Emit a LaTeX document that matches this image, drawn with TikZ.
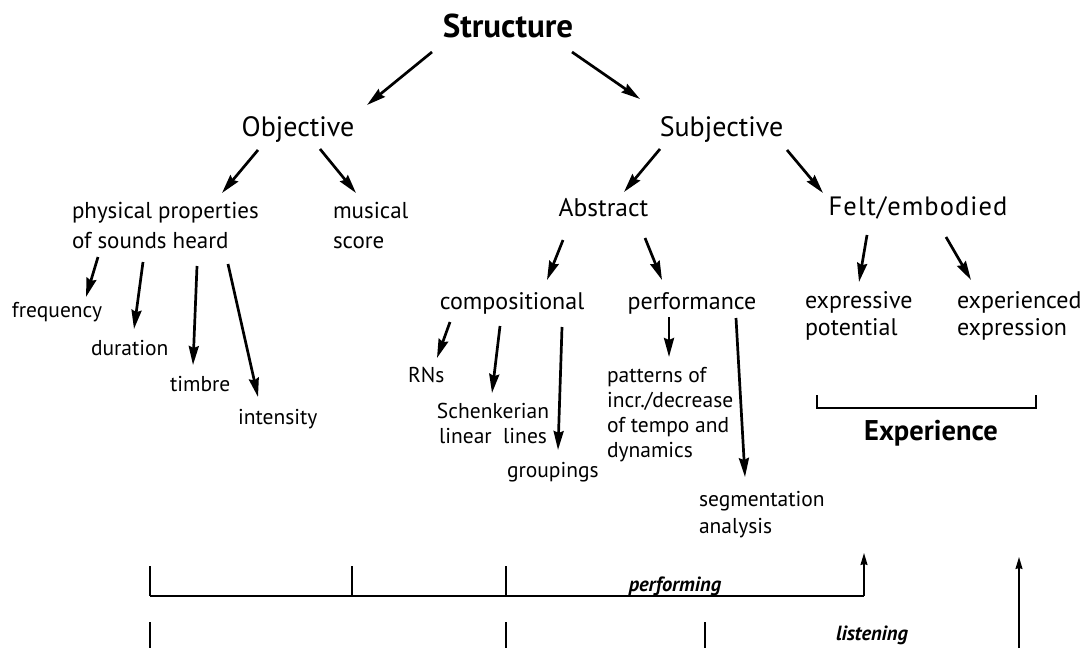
\documentclass[tikz,border=0pt]{standalone}
\usepackage{fontspec}
\setmainfont{PT Sans}
\usetikzlibrary{arrows.meta}
\begin{document}
\begin{tikzpicture}[x=1pt,y=-1pt,
  lbl/.style={inner sep=0pt,outer sep=0pt},
  fbig/.style={lbl,font=\fontsize{28}{32}\selectfont},
  fmid/.style={lbl,font=\fontsize{25.5}{30}\selectfont},
  fnorm/.style={lbl,font=\fontsize{24}{30}\selectfont},
  fsmall/.style={lbl,font=\fontsize{21.5}{25.3}\selectfont},
  fbold/.style={lbl,font=\bfseries\fontsize{#1}{#1}\selectfont},
  fbi/.style={lbl,font=\bfseries\itshape\fontsize{20.5}{24}\selectfont},
  arr/.style={line width=2.7pt,-{Stealth[length=19pt,width=10pt,inset=2pt]}},
  thin/.style={line width=1.4pt},
  thick/.style={line width=2.1pt},
  uparr/.style={line width=1.4pt,-{Stealth[length=12pt,width=7pt,inset=1pt]}}
]
\useasboundingbox[fill=white] (0,0) rectangle (1083,648);

% ---------- labels ----------
\node[fbold=33,anchor=base] (struct) at (508,37) {Structure};
\node[fbig,anchor=base] (obj) at (298,136) {Objective};
\node[fbig,anchor=base] (subj) at (721.5,136) {Subjective};
\node[fnorm,anchor=base west,font=\fontsize{23}{30}\selectfont] (phys) at (72,218) {\begin{tabular}[t]{@{}l@{}}physical properties\\of sounds heard\end{tabular}};
\node[fnorm,anchor=base west,font=\fontsize{23}{30}\selectfont] (score) at (333,218) {\begin{tabular}[t]{@{}l@{}}musical\\score\end{tabular}};
\node[fmid,anchor=base] (abs) at (603.5,216) {Abstract};
\node[fmid,anchor=base,font=\fontsize{26.5}{30}\selectfont\addfontfeature{LetterSpace=4}] (felt) at (918,215) {Felt/embodied};
\node[fnorm,anchor=base] (comp) at (512,309) {compositional};
\node[fnorm,anchor=base] (perf) at (692,309) {performance};
\node[fnorm,anchor=base west,font=\fontsize{24}{27}\selectfont] (expot) at (805,308) {\begin{tabular}[t]{@{}l@{}}expressive\\potential\end{tabular}};
\node[fnorm,anchor=base west,font=\fontsize{24}{27}\selectfont] (exexp) at (957,308) {\begin{tabular}[t]{@{}l@{}}experienced\\expression\end{tabular}};

\node[fsmall,anchor=base west] (freq) at (12,317) {frequency};
\node[fsmall,anchor=base west] (dur) at (91,355) {duration};
\node[fsmall,anchor=base west] (timb) at (170,391) {timbre};
\node[fsmall,anchor=base west] (inten) at (238,424) {intensity};
\node[fsmall,anchor=base west] (rns) at (408,382) {RNs};
\node[fsmall,anchor=base] (schen) at (493,418) {\begin{tabular}[t]{@{}c@{}}Schenkerian\\linear\ \ lines\end{tabular}};
\node[fsmall,anchor=base west] (group) at (507,477) {groupings};
\node[fsmall,anchor=base west] (patt) at (607,382) {\begin{tabular}[t]{@{}l@{}}patterns of\\incr./decrease\\of tempo and\\dynamics\end{tabular}};
\node[fsmall,anchor=base west,font=\fontsize{21.5}{27}\selectfont] (seg) at (699,506) {\begin{tabular}[t]{@{}l@{}}segmentation\\analysis\end{tabular}};

\node[fbold=28.5,anchor=base] (exper) at (931,440) {Experience};
\node[fbi,anchor=base] (perfing) at (675,591) {performing};
\node[fbi,anchor=base] (listen) at (872,640) {listening};

% ---------- arrow end points ----------
\coordinate (a1s) at (432,52);  \coordinate (a1e) at (367,105);
\coordinate (a2s) at (572,52);  \coordinate (a2e) at (640,99);
\coordinate (a3s) at (258,150); \coordinate (a3e) at (222,193);
\coordinate (a4s) at (320,149); \coordinate (a4e) at (356,193);
\coordinate (a5s) at (660,149); \coordinate (a5e) at (624,192);
\coordinate (a6s) at (787,150); \coordinate (a6e) at (823,193);
\coordinate (a7s) at (563,240); \coordinate (a7e) at (547,280);
\coordinate (a8s) at (645,238); \coordinate (a8e) at (662,280);
\coordinate (a9s) at (867,235); \coordinate (a9e) at (859,282);
\coordinate (a10s) at (946,237); \coordinate (a10e) at (971,280);
\coordinate (a11s) at (98,257);  \coordinate (a11e) at (86,297);
\coordinate (a12s) at (143,262); \coordinate (a12e) at (134,329);
\coordinate (a13s) at (197,266); \coordinate (a13e) at (193,365);
\coordinate (a14s) at (228,264); \coordinate (a14e) at (258,397);
\coordinate (a15s) at (450,322); \coordinate (a15e) at (437,358);
\coordinate (a16s) at (500,326); \coordinate (a16e) at (492,393);
\coordinate (a17s) at (562,327); \coordinate (a17e) at (558,450);
\coordinate (a18s) at (669,317); \coordinate (a18e) at (669,357);
\coordinate (a19s) at (736,318); \coordinate (a19e) at (745,477);

\foreach \i in {1,...,19} \draw[arr] (a\i s) -- (a\i e);

% ---------- Experience bracket ----------
\coordinate (bl) at (817,395); \coordinate (br) at (1036,395);
\draw[thin] (bl) -- ++(0,13) -| (br);

% ---------- performing line ----------
\coordinate (p0) at (150,566); \coordinate (p1) at (352,566); \coordinate (p2) at (506,566);
\coordinate (pl) at (150,596); \coordinate (pr) at (864,596); \coordinate (ptip) at (864,553);
\draw[thick] (pl) -- (pr);
\draw[thin] (p0) -- (p0 |- pl);
\draw[thin] (p1) -- (p1 |- pl);
\draw[thin] (p2) -- (p2 |- pl);
\draw[uparr] (pr) -- (ptip);

% ---------- listening line ----------
\coordinate (l0) at (150,622); \coordinate (l1) at (506,622); \coordinate (l2) at (705,622);
\coordinate (lb) at (150,648); \coordinate (lbase) at (1019,648); \coordinate (ltip) at (1019,557);
\draw[thin] (l0) -- (l0 |- lb);
\draw[thin] (l1) -- (l1 |- lb);
\draw[thin] (l2) -- (l2 |- lb);
\draw[uparr] (lbase) -- (ltip);
\end{tikzpicture}
\end{document}
